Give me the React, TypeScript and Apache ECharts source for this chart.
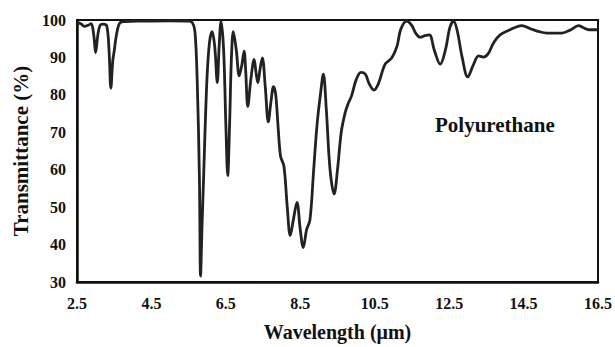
import React, { useEffect, useRef } from "react";
import * as echarts from "echarts";

const wavelength = [
  2.5, 2.6, 2.7, 2.8, 2.88, 2.95, 3.0, 3.06, 3.12, 3.2, 3.3, 3.36, 3.41, 3.46, 3.5, 3.56, 3.65, 3.8, 4.2, 5.0,
  5.5, 5.6, 5.67, 5.73, 5.79, 5.82, 5.86, 5.9, 5.99, 6.06, 6.13, 6.2, 6.27, 6.32, 6.37, 6.44, 6.5, 6.55, 6.6, 6.65,
  6.7, 6.78, 6.86, 6.93, 6.99, 7.03, 7.09, 7.17, 7.26, 7.31, 7.36, 7.42, 7.48, 7.56, 7.64, 7.71, 7.78, 7.84, 7.9, 7.97,
  8.06, 8.15, 8.23, 8.32, 8.41, 8.5, 8.58, 8.67, 8.76, 8.86, 8.95, 9.04, 9.12, 9.2, 9.3, 9.41, 9.5, 9.6, 9.7, 9.78,
  9.88, 10.0, 10.13, 10.25, 10.35, 10.48, 10.6, 10.78, 10.96, 11.1, 11.2, 11.36, 11.5, 11.6, 11.72, 11.85, 11.97, 12.1, 12.26, 12.4,
  12.52, 12.62, 12.72, 12.85, 13.0, 13.15, 13.29, 13.42, 13.55, 13.7, 13.87, 14.14, 14.45, 14.7, 14.95, 15.13, 15.53, 15.75, 15.98, 16.1,
  16.25, 16.5,
];

const transmittance = [
  99.3, 99.0, 98.3, 98.6, 99.0, 96, 91.3, 96, 98.6, 98.9, 98.4, 92, 81.8, 89, 91.7, 96, 99.2, 99.6, 99.7, 99.8,
  99.7, 99.3, 96.9, 83.8, 57.4, 31.6, 45, 57.4, 83.8, 94, 96.9, 93, 83.3, 93, 99.6, 92, 72, 58.4, 72, 90,
  96.9, 92, 85.1, 88, 91.7, 87, 76.9, 84, 89.5, 86, 83.3, 87, 89.9, 82, 72.8, 78, 82.2, 80, 72, 63.6,
  61, 50, 42.4, 47, 51.3, 44, 39.2, 44, 46.6, 60, 72, 80, 85.5, 76, 60, 53.5, 60, 70, 75, 77.5,
  79.8, 84, 86, 85.5, 83, 81.3, 83, 88.2, 89.9, 93, 97.5, 99.7, 98.5, 96.5, 95.4, 95.8, 96, 92, 88.2, 92,
  98, 99.7, 97, 90, 84.8, 88, 90.4, 90.1, 91, 94, 96, 97.4, 98.5, 97.6, 96.8, 96.5, 96.5, 97.3, 98.5, 98,
  97.4, 97.4,
];

const xTitle = "Wavelength (μm)";
const yTitle = "Transmittance (%)";
const sampleLabel = "Polyurethane";

const FONT = "'Liberation Serif', 'Times New Roman', serif";

export default function App() {
  const ref = useRef<HTMLDivElement>(null);
  useEffect(() => {
    if (!ref.current) return;
    const chart = echarts.init(ref.current, null, { renderer: "svg" });
    chart.setOption({
      animation: false,
      backgroundColor: "#ffffff",
      grid: {
        left: 77,
        right: 17,
        top: 20,
        bottom: 61,
        show: true,
        borderColor: "#111",
        borderWidth: 2,
      },
      xAxis: {
        type: "value",
        min: 2.5,
        max: 16.5,
        interval: 2,
        name: xTitle,
        nameLocation: "middle",
        nameGap: 40,
        nameTextStyle: { fontFamily: FONT, fontWeight: "bold", fontSize: 20, color: "#111" },
        axisLine: { show: true, lineStyle: { color: "#111", width: 2.5 } },
        axisTick: { show: false },
        splitLine: { show: false },
        axisLabel: {
          margin: 13,
          fontFamily: FONT,
          fontWeight: "bold",
          fontSize: 16,
          color: "#111",
          formatter: (v: number) => v.toFixed(1),
        },
      },
      yAxis: {
        type: "value",
        min: 30,
        max: 100,
        interval: 10,
        name: yTitle,
        nameLocation: "middle",
        nameGap: 40,
        nameRotate: 90,
        nameTextStyle: { fontFamily: FONT, fontWeight: "bold", fontSize: 21, color: "#111" },
        axisLine: { show: true, lineStyle: { color: "#111", width: 2.5 } },
        axisTick: { show: false },
        splitLine: { show: false },
        axisLabel: {
          margin: 11,
          fontFamily: FONT,
          fontWeight: "bold",
          fontSize: 16,
          color: "#111",
        },
      },
      graphic: [
        {
          type: "text",
          left: 435,
          top: 114,
          style: {
            text: sampleLabel,
            fontFamily: FONT,
            fontWeight: "bold",
            fontSize: 21,
            fill: "#111",
          },
        },
      ],
      series: [
        {
          type: "line",
          data: wavelength.map((w, i) => [w, transmittance[i]]),
          showSymbol: false,
          smooth: 0.35,
          lineStyle: { color: "#222", width: 2.8 },
        },
      ],
    });
    return () => chart.dispose();
  }, []);
  return (
    <div
      ref={ref}
      style={{ position: "fixed", left: 0, top: 0, width: 615, height: 347 }}
    />
  );
}
